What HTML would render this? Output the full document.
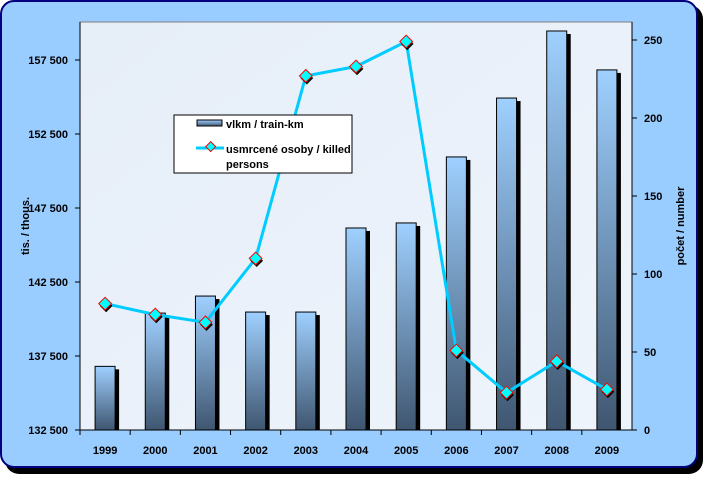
<!DOCTYPE html>
<html><head><meta charset="utf-8"><style>
body{margin:0;width:703px;height:474px;background:#fff;overflow:hidden}
text{font-family:"Liberation Sans",Arial,sans-serif;font-weight:bold;font-size:11px;fill:#000}
</style></head><body>
<svg id="chart" width="703" height="474" xmlns="http://www.w3.org/2000/svg">
<defs>
<linearGradient id="barg" x1="0" y1="0" x2="0" y2="1"><stop offset="0" stop-color="#9fd0ff"/><stop offset="1" stop-color="#3f5670"/></linearGradient>
<linearGradient id="plotg" x1="0" y1="0" x2="1" y2="1"><stop offset="0" stop-color="#e6eef8"/><stop offset="1" stop-color="#eef4fb"/></linearGradient>
</defs>
<rect x="5" y="5" width="698" height="469" rx="14" fill="#000"/>
<rect x="1" y="1" width="696" height="466" rx="13" fill="#99ccff" stroke="#000080" stroke-width="2"/>
<rect x="80" y="22" width="552" height="408" fill="url(#plotg)" stroke="#808080" stroke-width="1"/>
<g id="axes"></g><g id="bars"></g><g id="line"></g>
<g>
<rect x="174" y="115" width="178" height="58" fill="#fff" stroke="#000"/>
<rect x="197" y="120" width="25" height="6" fill="url(#barg)" stroke="#000"/>
<text x="226" y="128">vlkm / train-km</text>
<line x1="196" y1="148" x2="224" y2="148" stroke="#00ccff" stroke-width="3"/>
<rect x="206" y="143" width="7" height="7" fill="#00ffff" stroke="#f00" transform="rotate(45 210 148)"/>
<text x="226" y="153">usmrcené osoby / killed</text>
<text x="226" y="168">persons</text>
</g>
<text transform="translate(29 226) rotate(-90)" text-anchor="middle">tis. / thous.</text>
<text transform="translate(684 226) rotate(-90)" text-anchor="middle">počet / number</text>
</svg>
<script>
const categories=["1999","2000","2001","2002","2003","2004","2005","2006","2007","2008","2009"];
const trainKm=[136800,140400,141550,140470,140470,146150,146490,150950,154930,159460,156830];
const killed=[81,74,69,110,227,233,249,51,24,44,26];
const leftTicks=[132500,137500,142500,147500,152500,157500];
const leftTickLabels=["132 500","137 500","142 500","147 500","152 500","157 500"];
const rightTicks=[0,50,100,150,200,250];
const NS="http://www.w3.org/2000/svg";
const X0=80,X1=632,Y0=430;
const band=(X1-X0)/categories.length;
const xc=i=>X0+band*(i+0.5);
const yl=v=>Y0-(v-132500)/5000*74;
const yr=v=>Y0-v*1.56;
function mk(t,a,p){const e=document.createElementNS(NS,t);for(const k in a)e.setAttribute(k,a[k]);p.appendChild(e);return e;}
const ax=document.getElementById('axes');
mk('line',{x1:X0,y1:22,x2:X0,y2:Y0,stroke:'#000'},ax);
mk('line',{x1:X1,y1:22,x2:X1,y2:Y0,stroke:'#000'},ax);
mk('line',{x1:X0,y1:Y0,x2:X1,y2:Y0,stroke:'#000'},ax);
leftTicks.forEach((v,i)=>{
  mk('line',{x1:X0-5,y1:yl(v),x2:X0,y2:yl(v),stroke:'#000'},ax);
  const t=mk('text',{x:X0-12,y:yl(v)+4,'text-anchor':'end'},ax);
  t.textContent=leftTickLabels[i];
  
  
});
rightTicks.forEach(v=>{
  mk('line',{x1:X1,y1:yr(v),x2:X1+5,y2:yr(v),stroke:'#000'},ax);
  const t=mk('text',{x:X1+12,y:yr(v)+4},ax);
  t.textContent=v;
  
  
});
categories.forEach((c,i)=>{
  mk('line',{x1:X0+band*i,y1:Y0,x2:X0+band*i,y2:Y0+5,stroke:'#000'},ax);
  const t=mk('text',{x:xc(i),y:Y0+24,'text-anchor':'middle'},ax);
  t.textContent=c;
  
  
});
const bg=document.getElementById('bars');
trainKm.forEach((v,i)=>{
  const x=xc(i)-10,y=yl(v);
  mk('rect',{x:x+4,y:y+3,width:20,height:Y0-y-3,fill:'#000'},bg);
  const r=mk('rect',{x:x,y:y,width:20,height:Y0-y,fill:'url(#barg)',stroke:'#000','stroke-width':1},bg);
  
  
});
const lg=document.getElementById('line');
const pts=killed.map((v,i)=>xc(i)+','+yr(v)).join(' ');
const pl=mk('polyline',{points:pts,fill:'none',stroke:'#00ccff','stroke-width':3},lg);


killed.forEach((v,i)=>{
  const x=xc(i),y=yr(v);
  mk('rect',{x:x-4,y:y-2,width:9,height:9,fill:'#000',transform:`rotate(45 ${x+1} ${y+3})`},lg);
  const m=mk('rect',{x:x-4.5,y:y-4.5,width:9,height:9,fill:'#00ffff',stroke:'#f00','stroke-width':1,transform:`rotate(45 ${x} ${y})`},lg);
  
  
});
</script>
</body></html>
